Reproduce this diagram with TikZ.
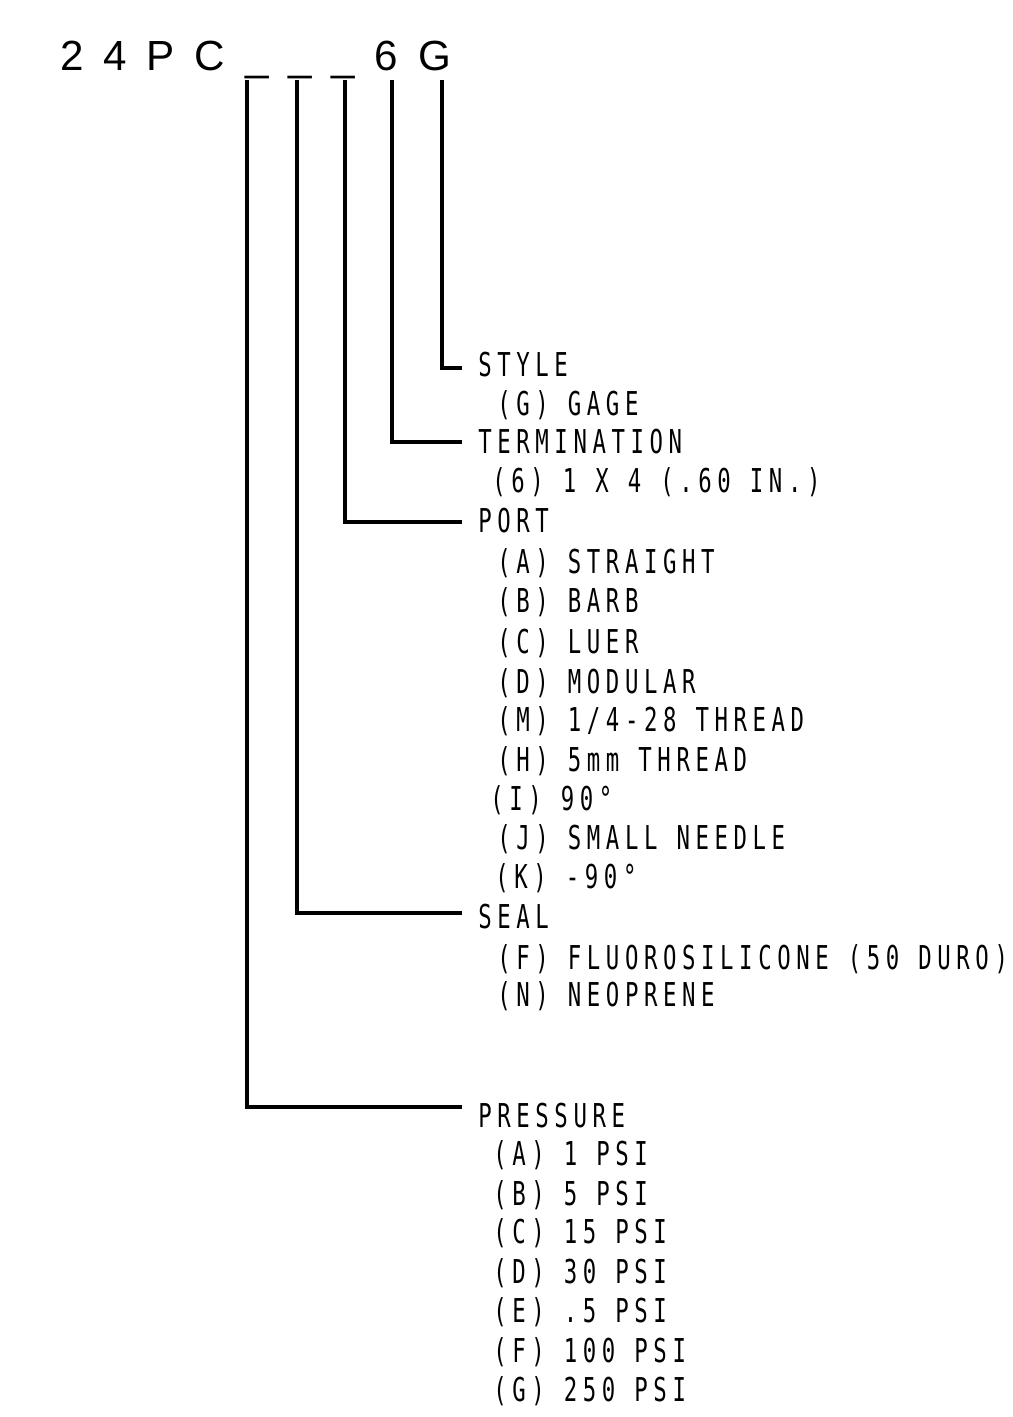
\documentclass[tikz,border=0pt]{standalone}
\usepackage{fontspec}
\newfontfamily\cadfont[FakeStretch=0.68,LetterSpace=17]{DejaVu Sans Mono}
\newfontfamily\hdrfont[LetterSpace=47]{Liberation Sans}
\begin{document}
\begin{tikzpicture}[x=0.02cm, y=-0.02cm,
    lead/.style={line width=2.1pt},
    head/.style={anchor=base west, inner xsep=0.32cm, inner ysep=0pt,
      font=\cadfont\fontsize{18.7}{20}\selectfont},
    item/.style={anchor=base west, inner sep=0pt,
      font=\cadfont\fontsize{18.7}{20}\selectfont}]
    \useasboundingbox (0,0) rectangle (1013,1417);

    % Kode produk
    \node[anchor=base west, inner sep=0pt, font=\hdrfont\fontsize{24}{26}\selectfont] (code) at (60,70) {24PC\_\_\_6G};

    % Titik awal garis
    \coordinate (tP) at (247,80);
    \coordinate (tS) at (297,80);
    \coordinate (tT) at (345,80);
    \coordinate (t6) at (392,80);
    \coordinate (tG) at (442,80);

    % Judul pilihan
    \node[head] (style) at (462,376) {STYLE};
    \node[head] (term) at (462,453) {TERMINATION};
    \node[head] (port) at (462,532) {PORT};
    \node[head] (seal) at (462,928) {SEAL};
    \node[head] (press) at (462,1127) {PRESSURE};

    % Garis penunjuk
    \draw[lead] (tG) |- ([yshift=0.16cm]style.base west);
    \draw[lead] (t6) |- ([yshift=0.22cm]term.base west);
    \draw[lead] (tT) |- ([yshift=0.20cm]port.base west);
    \draw[lead] (tS) |- ([yshift=0.30cm]seal.base west);
    \draw[lead] (tP) |- ([yshift=0.40cm]press.base west);

    % Isi pilihan
    \node[item] (sG) at (497,415) {(G) GAGE};
    \node[item] (t6i) at (492,492) {(6) 1 X 4 (.60 IN.)};

    \node[item] (pA) at (497,573) {(A) STRAIGHT};
    \node[item] (pB) at (497,612) {(B) BARB};
    \node[item] (pC) at (497,653) {(C) LUER};
    \node[item] (pD) at (497,693) {(D) MODULAR};
    \node[item] (pM) at (497,731) {(M) 1/4-28 THREAD};
    \node[item] (pH) at (497,771) {(H) 5mm THREAD};
    \node[item] (pI) at (490,810) {(I) 90°};
    \node[item] (pJ) at (497,849) {(J) SMALL NEEDLE};
    \node[item] (pK) at (495,888) {(K) -90°};

    \node[item] (sF) at (497,969) {(F) FLUOROSILICONE (50 DURO)};
    \node[item] (sN) at (497,1006) {(N) NEOPRENE};

    \node[item] (rA) at (493,1165) {(A) 1 PSI};
    \node[item] (rB) at (493,1205) {(B) 5 PSI};
    \node[item] (rC) at (493,1243) {(C) 15 PSI};
    \node[item] (rD) at (493,1283) {(D) 30 PSI};
    \node[item] (rE) at (493,1322) {(E) .5 PSI};
    \node[item] (rF) at (493,1362) {(F) 100 PSI};
    \node[item] (rG) at (493,1401) {(G) 250 PSI};
\end{tikzpicture}
\end{document}
